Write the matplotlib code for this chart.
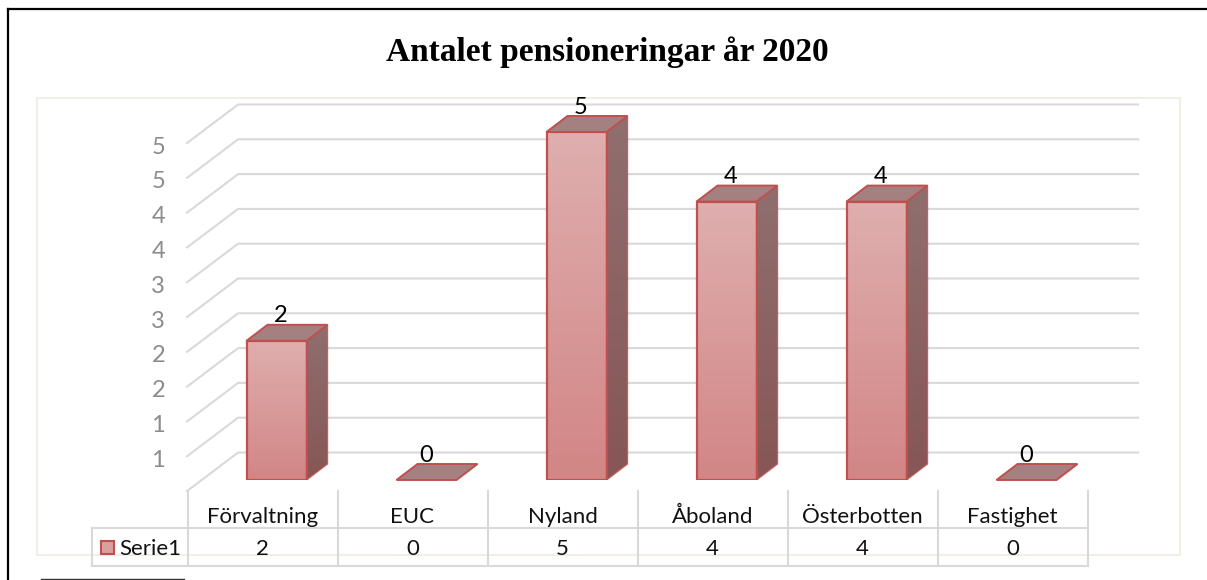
import numpy as np
import matplotlib
matplotlib.use('Agg')
import matplotlib.pyplot as plt
from matplotlib.patches import Polygon, Rectangle
from matplotlib.colors import LinearSegmentedColormap

# data
categories = ['Förvaltning', 'EUC', 'Nyland', 'Åboland', 'Österbotten', 'Fastighet']
values = [2, 0, 5, 4, 4, 0]
series_name = 'Serie1'
grid_values = [0, 0.5, 1, 1.5, 2, 2.5, 3, 3.5, 4, 4.5, 5]
tick_labels = ['', '1', '1', '2', '2', '3', '3', '4', '4', '5', '5']
title = 'Antalet pensioneringar år 2020'

W, H = 1207, 580
plt.rcParams['font.family'] = ['Lato', 'DejaVu Sans']

fig = plt.figure(figsize=(W / 100, H / 100), dpi=100)

# background layer in pixels: frames and table lines
bg = fig.add_axes([0, 0, 1, 1])
bg.set_xlim(0, W)
bg.set_ylim(H, 0)
bg.axis('off')

bg.plot([7.5, 7.5], [H, 8.5], color='black', lw=1.6)
bg.plot([7.5, W], [8.5, 8.5], color='black', lw=1.6)
bg.plot([41, 184], [578.8, 578.8], color='#333333', lw=1)
bg.add_patch(Rectangle((37, 98), 1143, 457, fill=False, ec='#f0eee6', lw=1.5))

table_c = '#d9d9d9'
for x in [187.5 + 150 * i for i in range(7)]:
    bg.plot([x, x], [491, 566], color=table_c, lw=1.5, zorder=3)
bg.plot([92, 1087], [528, 528], color=table_c, lw=1.5, zorder=3)
bg.plot([92, 1087], [566, 566], color=table_c, lw=1.5, zorder=3)
bg.plot([92, 92], [528, 566], color=table_c, lw=1.5, zorder=3)

bg.text(607, 52, title, ha='center', va='center', fontsize=24, fontweight='bold',
        family='Liberation Serif', color='black')

for i, (c, v) in enumerate(zip(categories, values)):
    x = 262.5 + 150 * i
    bg.text(x, 515, c, ha='center', va='center_baseline', fontsize=16, color='#111111')
    bg.text(x, 547, str(v), ha='center', va='center_baseline', fontsize=16, color='#111111')

bg.add_patch(Rectangle((100.5, 540.5), 13, 13, fc='#d9a0a0', ec='#c0504d', lw=1.5))
bg.text(119, 547, series_name, ha='left', va='center_baseline', fontsize=16, color='#111111')

# plot axes: plane of the bar fronts, y 0..5.5 maps to px 480..93
unit_x = 150.0   # px per category
unit_y = 69.6    # px per value
y_max = 5.5
ax = fig.add_axes([201.5 / W, 1 - 480 / H, 900 / W, y_max * unit_y / H])
ax.patch.set_alpha(0)
ax.axis('off')

front = (-14.4 / unit_x, -11 / unit_y)
back = (36.6 / unit_x, 27.5 / unit_y)
depth = (21 / unit_x, 16 / unit_y)
bar_w = 0.4

grid_c = '#d9d9d9'
x_left = -0.5
x_right = 5.5
for g, lab in zip(grid_values, tick_labels):
    ax.plot([x_left + front[0], x_left + back[0], x_right + back[0]],
            [g + front[1], g + back[1], g + back[1]],
            color=grid_c, lw=1.5, clip_on=False, zorder=1, solid_joinstyle='miter')
    if lab:
        ax.text(x_left + front[0] - 22 / unit_x, g + front[1] - 2 / unit_y, lab, ha='right',
                va='center_baseline', fontsize=17, color='#8c8c8c', clip_on=False)

front_cm = LinearSegmentedColormap.from_list('front', ['#dfaeae', '#d28686'])
side_cm = LinearSegmentedColormap.from_list('side', ['#906f6f', '#875656'])
edge = '#c0504d'
grad = np.linspace(0, 1, 64).reshape(-1, 1)

for i, v in enumerate(values):
    x0, x1 = i - bar_w / 2, i + bar_w / 2
    dx, dy = depth
    if v > 0:
        ax.imshow(grad, cmap=front_cm, extent=(x0, x1, 0, v), aspect='auto', zorder=2)
        side = Polygon([(x1, 0), (x1 + dx, dy), (x1 + dx, v + dy), (x1, v)],
                       fc='none', ec='none', transform=ax.transData)
        ax.add_patch(side)
        im2 = ax.imshow(grad, cmap=side_cm, extent=(x1, x1 + dx, 0, v + dy), aspect='auto', zorder=2)
        im2.set_clip_path(side)
        ax.add_patch(Polygon([(x1, 0), (x1 + dx, dy), (x1 + dx, v + dy), (x1, v)],
                             fill=False, ec=edge, lw=1.0, zorder=3, alpha=0.8))
        ax.add_patch(Rectangle((x0, 0), bar_w, v, fill=False, ec=edge, lw=1.6, zorder=4))
    ax.add_patch(Polygon([(x0, v), (x0 + dx, v + dy), (x1 + dx, v + dy), (x1, v)],
                         fc='#a58080', ec=edge, lw=1.4, zorder=4, joinstyle='miter', clip_on=False))
    label_dx = 0.03 if v > 0 else 0.0
    ax.text(i + label_dx, v + dy + 11 / unit_y, str(v), ha='center', va='center_baseline',
            fontsize=17, color='black', zorder=5, clip_on=False)

ax.set_xlim(-0.5, 5.5)
ax.set_ylim(0, y_max)

fig.savefig('out.png', dpi=100)
